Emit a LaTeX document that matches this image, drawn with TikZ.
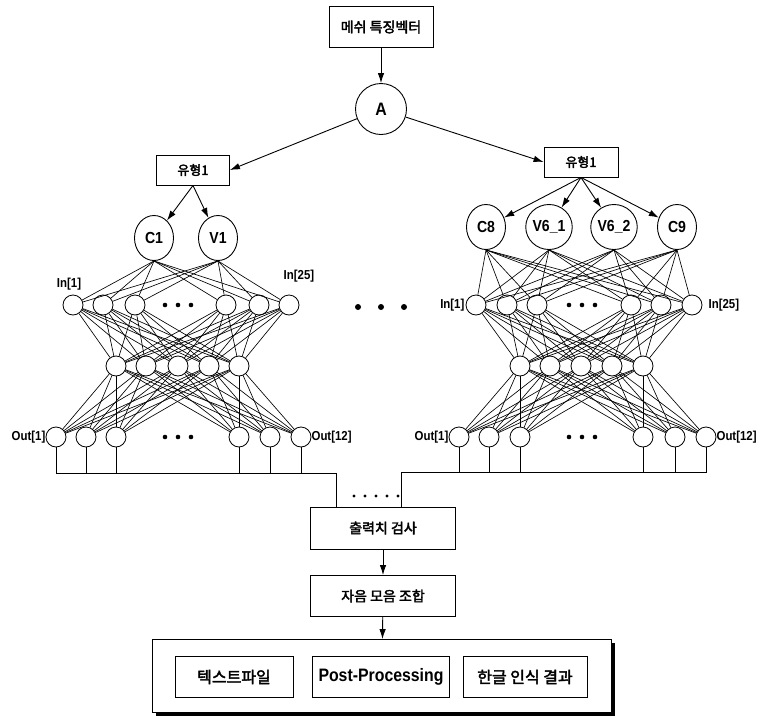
\documentclass[tikz,border=0pt]{standalone}
\usepackage{fontspec}
\setmainfont{Liberation Sans}
\newfontfamily\kr{Noto Sans CJK KR}[AutoFakeBold=2.5]
\newfontfamily\lat{Liberation Sans}[FakeStretch=0.88]
\usetikzlibrary{positioning,arrows.meta,shapes.geometric}

\begin{document}
\begin{tikzpicture}[x=1pt,y=-1pt,
  box/.style={draw, line width=0.9pt, inner sep=0pt, font=\kr\bfseries\fontsize{14}{16}\selectfont},
  unit/.style={draw, circle, line width=0.8pt, minimum size=20, inner sep=0pt},
  cls/.style={draw, ellipse, line width=0.9pt, minimum width=39, minimum height=45, inner sep=0pt, font=\lat\bfseries\fontsize{16}{18}\selectfont},
  link/.style={line width=0.65pt},
  arr/.style={line width=0.9pt, -{Latex[length=10pt,width=6.5pt]}},
  lbl/.style={font=\lat\bfseries\fontsize{13}{15}\selectfont, inner sep=0pt}]
\useasboundingbox (0,0) rectangle (764,718);

% top of the tree
\node[box, minimum width=104, minimum height=41] (top) at (381,27) {메쉬 특징벡터};
\node[draw, circle, line width=0.9pt, minimum size=51, inner sep=0pt, font=\lat\bfseries\fontsize{18}{20}\selectfont] (A) at (381,109) {A};
\node[box, minimum width=73, minimum height=30, font=\kr\bfseries\fontsize{13}{15}\selectfont] (lbox) at (193,170) {유형1};
\node[box, minimum width=74, minimum height=30, font=\kr\bfseries\fontsize{13}{15}\selectfont] (rbox) at (581,162) {유형1};
\draw[arr] (top) -- (A);
\draw[arr] (A) -- (lbox.east);
\draw[arr] (A) -- (rbox.west);

% class nodes
\node[cls] (c1) at (154,238) {C1};
\node[cls] (v1) at (218,238) {V1};
\node[cls] (c8) at (486,227) {C8};
\node[cls] (v61) at (549,227) {V6\_1};
\node[cls] (v62) at (614,227) {V6\_2};
\node[cls] (c9) at (677,227) {C9};
\foreach \s in {c1,v1} \draw[arr] (lbox.south) -- (\s);
\foreach \s in {c8,v61,v62,c9} \draw[arr] (rbox.south) -- (\s);

% left network
\foreach \x [count=\i] in {73,103,135,226,259,289} \node[unit] (li\i) at (\x,305) {};
\foreach \x [count=\i] in {116,146,178,209,239} \node[unit] (lh\i) at (\x,366) {};
\foreach \x [count=\i] in {56,86,116,239,270,301} \node[unit] (lo\i) at (\x,437) {};
% right network
\foreach \x [count=\i] in {476,507,537,631,661,692} \node[unit] (ri\i) at (\x,305) {};
\foreach \x [count=\i] in {520,550,581,612,643} \node[unit] (rh\i) at (\x,366) {};
\foreach \x [count=\i] in {459,489,520,643,675,706} \node[unit] (ro\i) at (\x,437) {};

\foreach \s in {c1,v1} \foreach \i in {1,...,6} \draw[link] (\s.south) -- (li\i);
\foreach \s in {c8,v61,v62,c9} \foreach \i in {1,...,6} \draw[link] (\s.south) -- (ri\i);
\foreach \i in {1,...,6} \foreach \j in {1,...,5} {
  \draw[link] (li\i) -- (lh\j);
  \draw[link] (lh\j) -- (lo\i);
  \draw[link] (ri\i) -- (rh\j);
  \draw[link] (rh\j) -- (ro\i);
}

% dots
\foreach \x in {165,178,191} {\fill (\x,305) circle (2.3pt); \fill (\x,437) circle (2.3pt);}
\foreach \x in {569,582,595} {\fill (\x,305) circle (2.3pt); \fill (\x,437) circle (2.3pt);}
\foreach \x in {358,381,404} \fill (\x,307) circle (3pt);

% labels
\node[lbl] (lin1) at (69,284) {In[1]};
\node[lbl] (lin25) at (299,276) {In[25]};
\node[lbl, left=1pt of ri1] (rin1) {In[1]};
\node[lbl, right=6pt of ri6] (rin25) {In[25]};
\node[lbl, left=0pt of lo1] (lout1) {Out[1]};
\node[lbl, right=0pt of lo6] (lout12) {Out[12]};
\node[lbl, left=0pt of ro1] (rout1) {Out[1]};
\node[lbl, right=0pt of ro6] (rout12) {Out[12]};

% output check and combination
\node[box, minimum width=145, minimum height=42] (check) at (383,528) {출력치 검사};
\node[box, minimum width=145, minimum height=41] (comb) at (383,596) {자음 모음 조합};
\node[draw, line width=0.9pt, minimum width=459, minimum height=73, inner sep=0pt] (result) at (382,676) {};
\draw[line width=3pt] ([xshift=1.5pt,yshift=-4pt]result.north east) -- ([xshift=1.5pt,yshift=-1.5pt]result.south east) -- ([xshift=4pt,yshift=-1.5pt]result.south west);
\node[box, minimum width=118, minimum height=41, font=\kr\bfseries\fontsize{16}{18}\selectfont] (txt) at (234,677) {텍스트파일};
\node[box, minimum width=137, minimum height=41, font=\lat\bfseries\fontsize{18}{20}\selectfont] (post) at (381,677) {Post-Processing};
\node[box, minimum width=124, minimum height=41, font=\kr\bfseries\fontsize{16}{18}\selectfont] (hangul) at (525,677) {한글 인식 결과};
\draw[arr] (check) -- (comb);
\draw[arr] (comb) -- (result);

% output buses
\coordinate (ldrop) at (336,473);
\coordinate (rdrop) at (401,472);
\draw[link] (lo1.south) |- (ldrop) -- (ldrop |- check.north);
\foreach \i in {2,...,6} \draw[link] (lo\i.south) -- (lo\i.south |- ldrop);
\draw[link] (ro6.south) |- (rdrop) -- (rdrop |- check.north);
\foreach \i in {1,...,5} \draw[link] (ro\i.south) -- (ro\i.south |- rdrop);
\foreach \x in {354,365,376,387,398} \fill (\x,496) circle (1.6pt);
\end{tikzpicture}
\end{document}
